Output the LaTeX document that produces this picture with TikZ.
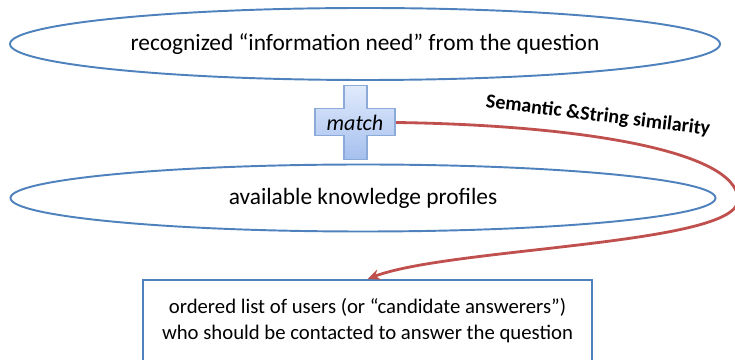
\documentclass[tikz,border=0pt]{standalone}
\usepackage{fontspec}
\setmainfont{Carlito}
\usetikzlibrary{calc,shapes.geometric,arrows.meta}
\definecolor{ellblue}{RGB}{79,129,189}
\definecolor{arcred}{RGB}{192,80,77}

\begin{document}
\begin{tikzpicture}[line width=1.1pt,
	oval/.style={draw=ellblue, ellipse, inner sep=0pt, font=\fontsize{13.3}{16}\selectfont},
	crossfill/.style={draw={rgb,255:red,140;green,170;blue,215}, line width=0.6pt, top color={rgb,255:red,225;green,234;blue,252}, bottom color={rgb,255:red,165;green,192;blue,238}}]
\useasboundingbox (0,0) rectangle (14.7,-7.2);

\node[oval, minimum width=14.2cm, minimum height=1.44cm] (need) at (7.3,-0.88) {recognized “information need” from the question};
\node[oval, minimum width=14.1cm, minimum height=1.34cm] (prof) at (7.26,-3.96) {available knowledge profiles};

% the plus sign
\coordinate (mc) at (7.1,-2.45);
\path[crossfill] ($(mc)+(-0.22,0.74)$) -- ++(0.46,0) -- ++(0,-0.46) -- ++(0.56,0) -- ++(0,-0.54) -- ++(-0.56,0) -- ++(0,-0.48) -- ++(-0.46,0) -- ++(0,0.48) -- ++(-0.58,0) -- ++(0,0.54) -- ++(0.58,0) -- cycle;
\node[font=\fontsize{12.6}{15}\selectfont\itshape, inner sep=0pt] (match) at (mc) {match};
\coordinate (mr) at ($(mc)+(0.82,0)$);

\node[draw=ellblue, minimum width=8.98cm, anchor=north, align=center, inner ysep=0.37cm, text depth=1.2cm, font=\fontsize{11.8}{14.8}\selectfont] (users) at (7.35,-5.58) {ordered list of users (or “candidate answerers”)\\who should be contacted to answer the question};

\draw[arcred, line width=1.6pt, -{Stealth[length=7pt,width=6pt]}] (mr) .. controls (11.5,-2.5) and (14.76,-3.0) .. (14.76,-4.0) .. controls (14.76,-4.9) and (9,-4.95) .. (users.north);
\node[font=\fontsize{11.4}{13}\selectfont\bfseries, rotate=-7] (sim) at (11.96,-2.32) {Semantic \&String similarity};

\end{tikzpicture}
\end{document}
